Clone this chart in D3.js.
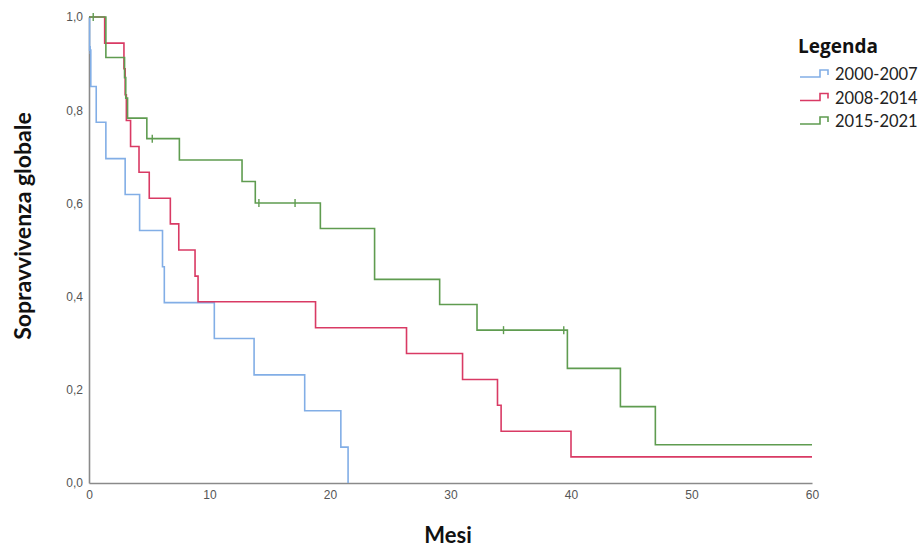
<!DOCTYPE html>
<html>
<head>
<meta charset="utf-8">
<script src="https://cdn.jsdelivr.net/npm/d3@7"></script>
<style>
  body { margin: 0; background: #fff; }
  svg { display: block; }
</style>
</head>
<body>
<svg class="main-svg" width="921" height="550"></svg>
<script>
// series labels
var groups = ['2000-2007', '2008-2014', '2015-2021'];

// step times (months) and survival after each step
var timesA = [0, 0.05, 0.15, 0.6, 1.4, 3.0, 4.2, 6.1, 6.25, 10.4, 13.7, 17.9, 20.9, 21.5];
var survA  = [1, 0.929, 0.851, 0.774, 0.696, 0.619, 0.542, 0.464, 0.387, 0.310, 0.232, 0.155, 0.077, 0];
var censTimesA = [0.1];
var censSurvA  = [0.929];

var timesB = [0, 1.3, 2.9, 3.0, 3.1, 3.45, 4.15, 5.0, 6.75, 7.45, 8.8, 9.05, 18.8, 26.35, 31.0, 33.9, 34.2, 40.0, 60];
var survB  = [1, 0.944, 0.889, 0.833, 0.778, 0.722, 0.667, 0.611, 0.556, 0.5, 0.444, 0.389, 0.333, 0.278, 0.222, 0.167, 0.111, 0.056, 0.056];
var censTimesB = [];
var censSurvB  = [];

var timesC = [0, 1.4, 2.95, 3.05, 3.2, 4.8, 7.5, 12.7, 13.8, 19.2, 23.7, 29.1, 32.2, 39.7, 44.1, 47.0, 60];
var survC  = [1, 0.913, 0.870, 0.826, 0.783, 0.739, 0.693, 0.647, 0.601, 0.546, 0.437, 0.383, 0.328, 0.246, 0.164, 0.082, 0.082];
var censTimesC = [0.35, 5.25, 14.1, 17.1, 34.4, 39.4];
var censSurvC  = [1, 0.739, 0.601, 0.601, 0.328, 0.328];

var xTicks = [0, 10, 20, 30, 40, 50, 60];
var yTicks = [0, 0.2, 0.4, 0.6, 0.8, 1.0];

var colours = ['#82aee6', '#d93a64', '#5f9c50'];

var d3 = window.d3;
var svg = d3.select('.main-svg');

var x = d3.scaleLinear().domain([0, 60]).range([89, 812]);
var y = d3.scaleLinear().domain([0, 1]).range([483, 17]);

var fmt = d3.formatLocale({decimal: ',', thousands: '.', grouping: [3], currency: ['', '€']}).format('.1f');

// axes (no tick marks, SPSS style)
var xAxis = svg.append('g')
  .attr('transform', 'translate(0,' + y(0) + ')')
  .call(d3.axisBottom(x).tickValues(xTicks).tickSize(0).tickPadding(7));
var yAxis = svg.append('g')
  .attr('transform', 'translate(' + x(0) + ',0)')
  .call(d3.axisLeft(y).tickValues(yTicks).tickFormat(fmt).tickSize(0).tickPadding(6));

[xAxis, yAxis].forEach(g => {
  g.select('.domain').attr('stroke', '#8a8a8a').attr('stroke-width', 1.6);
  g.selectAll('text')
    .attr('fill', '#555')
    .style('font-family', '"Liberation Sans", Arial, sans-serif')
    .style('font-size', '12px');
});

var series = [
  {times: timesA, surv: survA, ct: censTimesA, cs: censSurvA},
  {times: timesB, surv: survB, ct: censTimesB, cs: censSurvB},
  {times: timesC, surv: survC, ct: censTimesC, cs: censSurvC}
];

var line = d3.line()
  .x(d => x(d[0]))
  .y(d => y(d[1]))
  .curve(d3.curveStepAfter);

series.forEach((s, k) => {
  var pts = s.times.map((t, i) => [t, s.surv[i]]);
  svg.append('path')
    .attr('d', line(pts))
    .attr('fill', 'none')
    .attr('stroke', colours[k])
    .attr('stroke-width', 1.6);

  svg.selectAll('.cens' + k)
    .data(s.ct.map((t, i) => [t, s.cs[i]]))
    .enter()
    .append('line')
    .attr('class', 'cens' + k)
    .attr('x1', d => x(d[0]))
    .attr('x2', d => x(d[0]))
    .attr('y1', d => y(d[1]) - 4)
    .attr('y2', d => y(d[1]) + 4)
    .attr('stroke', colours[k])
    .attr('stroke-width', 1.4);
});

// axis titles
svg.append('text')
  .attr('x', 448).attr('y', 543)
  .attr('text-anchor', 'middle')
  .style('font-family', 'Lato, "Open Sans", sans-serif')
  .style('font-weight', 'bold')
  .style('font-size', '22px')
  .attr('fill', '#111')
  .text('Mesi');

svg.append('text')
  .attr('transform', 'translate(31,226) rotate(-90)')
  .attr('text-anchor', 'middle')
  .style('font-family', 'Lato, "Open Sans", sans-serif')
  .style('font-weight', 'bold')
  .style('font-size', '23px')
  .attr('fill', '#111')
  .text('Sopravvivenza globale');

// legend
var legend = svg.append('g');
legend.append('text')
  .attr('x', 798).attr('y', 53)
  .style('font-family', '"Open Sans", Lato, sans-serif')
  .style('font-weight', 'bold')
  .style('font-size', '19px')
  .attr('fill', '#111')
  .text('Legenda');

groups.forEach((g, i) => {
  var cy = 74 + i * 23.5;
  legend.append('path')
    .attr('d', 'M' + 800 + ',' + (cy + 3) + 'H820V' + (cy - 4) + 'H828V' + (cy + 1))
    .attr('fill', 'none')
    .attr('stroke', colours[i])
    .attr('stroke-width', 1.6);
  legend.append('text')
    .attr('x', 835).attr('y', cy + 6)
    .style('font-family', 'Lato, "Open Sans", sans-serif')
    .style('font-size', '16.5px')
    .attr('fill', '#222')
    .text(g);
});
</script>
</body>
</html>
